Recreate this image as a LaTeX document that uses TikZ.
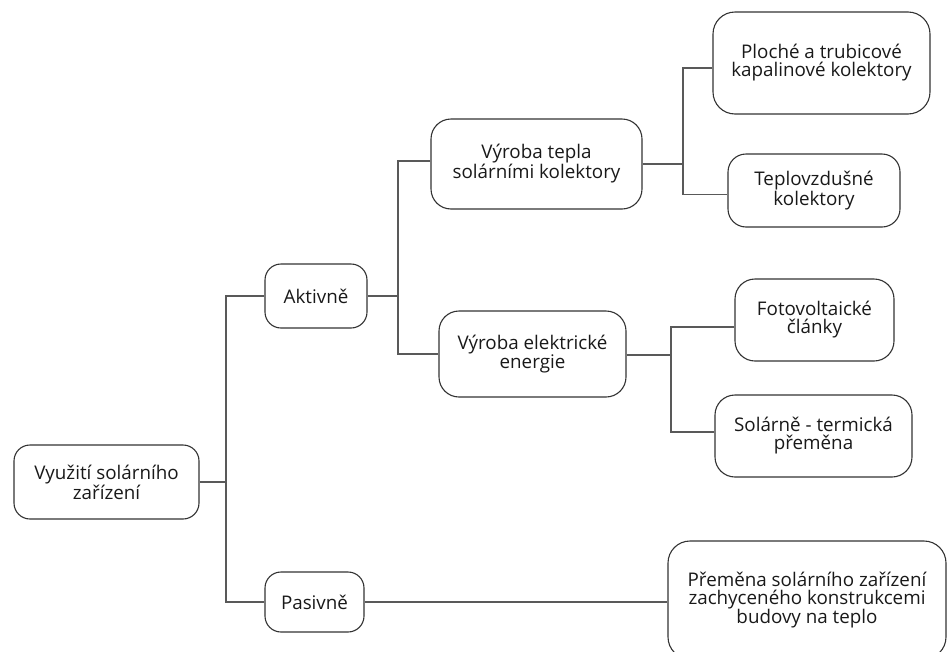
\documentclass[tikz,border=0pt]{standalone}
\usepackage{fontspec}
\setmainfont{Open Sans}
\newcommand{\boxfont}{\fontsize{18.8}{18}\selectfont}
\begin{document}
\begin{tikzpicture}[x=1pt,y=-1pt,
  box/.style={draw=black!80, line width=1.1pt, rounded corners=16pt, align=center,
    inner sep=0pt, text=black!90, font=\boxfont},
  conn/.style={draw=black!65, line width=1.2pt}]
\useasboundingbox (0,0) rectangle (948,651);
\node[box, minimum width=185pt, minimum height=74pt] (root) at (106.5,482) {Využití solárního\\zařízení};
\node[box, minimum width=102pt, minimum height=64pt] (akt) at (316,296) {Aktivně};
\node[box, minimum width=99pt, minimum height=60pt] (pas) at (314.5,602) {Pasivně};
\node[box, minimum width=211pt, minimum height=90pt, rounded corners=20pt] (tep) at (536.5,164) {Výroba tepla\\solárními kolektory};
\node[box, minimum width=187pt, minimum height=86pt, rounded corners=20pt] (ele) at (532.5,354) {Výroba elektrické\\energie};
\node[box, minimum width=217pt, minimum height=102pt, rounded corners=22pt] (plo) at (821.5,63) {Ploché a trubicové\\kapalinové kolektory};
\node[box, minimum width=172pt, minimum height=73pt, rounded corners=18pt] (tvz) at (814,190.5) {Teplovzdušné\\kolektory};
\node[box, minimum width=159pt, minimum height=82pt, rounded corners=20pt] (fot) at (814.5,320) {Fotovoltaické\\články};
\node[box, minimum width=197pt, minimum height=82pt, rounded corners=20pt] (sol) at (813.5,436) {Solárně - termická\\přeměna};
\node[box, minimum width=278pt, minimum height=118pt, rounded corners=22pt] (pre) at (807,600) {Přeměna solárního zařízení\\zachyceného konstrukcemi\\budovy na teplo};
% trunks
\coordinate (t1) at (226,482);
\coordinate (t2) at (398,296);
\coordinate (t3) at (683,164);
\coordinate (t4) at (671,355);
\draw[conn] (root.east) -- (t1);
\draw[conn] (akt.west) -| (t1) |- (pas.west);
\draw[conn] (akt.east) -- (t2);
\draw[conn] ([yshift=3pt]tep.west) -| (t2) |- (ele.west);
\draw[conn] (tep.east) -- (t3);
\draw[conn] ([yshift=-5pt]plo.west) -| (t3) |- ([yshift=-4pt]tvz.west);
\draw[conn] ([yshift=-1pt]ele.east) -- (t4);
\draw[conn] ([yshift=-7pt]fot.west) -| (t4) |- ([yshift=4pt]sol.west);
\draw[conn] (pas.east) -- (pas.east -| pre.west);
\end{tikzpicture}
\end{document}
